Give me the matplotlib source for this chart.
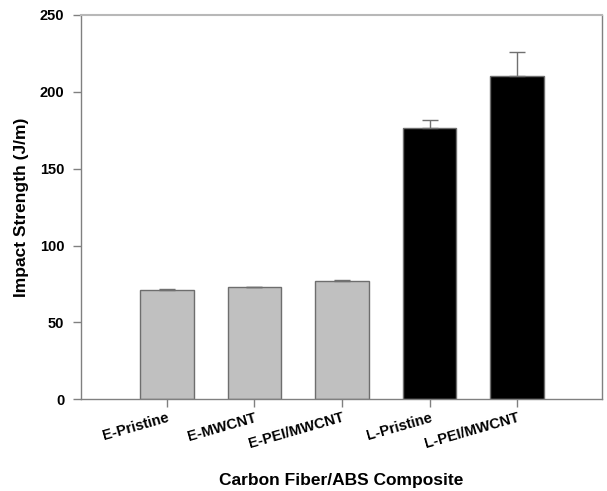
import matplotlib
matplotlib.use("Agg")
import matplotlib.pyplot as plt
import numpy as np

categories = ["E-Pristine", "E-MWCNT", "E-PEI/MWCNT", "L-Pristine", "L-PEI/MWCNT"]
values = [71.3, 72.8, 77.0, 176.4, 210.6]
errors = [0.4, 0.4, 0.6, 5.0, 15.2]
bar_colors = ["#c0c0c0", "#c0c0c0", "#c0c0c0", "#000000", "#000000"]
yticks = [0, 50, 100, 150, 200, 250]

plt.rcParams['font.family'] = ['Liberation Sans', 'DejaVu Sans']

fig = plt.figure(figsize=(6.07, 4.91), dpi=100)
ax = fig.add_axes([0.1334, 0.1868, 0.8584, 0.7827])

x = np.arange(len(categories))
ax.bar(x, values, width=0.61, color=bar_colors, edgecolor="#6e6e6e", linewidth=1.0, zorder=2)
ax.errorbar(x, values, yerr=[np.zeros(len(errors)), errors], fmt='none',
            ecolor="#707070", elinewidth=1.0, capsize=6, capthick=1.0, zorder=3)

ax.set_xlim(-0.98, 4.97)
ax.set_ylim(0, 250)
ax.set_yticks(yticks)
ax.set_yticklabels([str(t) for t in yticks], fontsize=10.5, fontweight='bold')
ax.set_xticks(x)
ax.set_xticklabels(categories, fontsize=10.5, fontweight='bold', rotation=16,
                   ha='right', rotation_mode='anchor')

ax.tick_params(axis='y', direction='out', length=6, width=1, color="#808080", pad=6)
ax.tick_params(axis='x', direction='out', length=6, width=1, color="#808080", pad=2)

for side in ['left', 'bottom', 'right']:
    ax.spines[side].set_color("#808080")
    ax.spines[side].set_linewidth(1.0)
ax.spines['top'].set_color("#b8b8b8")
ax.spines['top'].set_linewidth(1.5)

ax.set_ylabel("Impact Strength (J/m)", fontsize=12.5, fontweight='bold', labelpad=8)
ax.set_xlabel("Carbon Fiber/ABS Composite", fontsize=12.5, fontweight='bold', labelpad=16)

fig.savefig("out.png", dpi=100)
